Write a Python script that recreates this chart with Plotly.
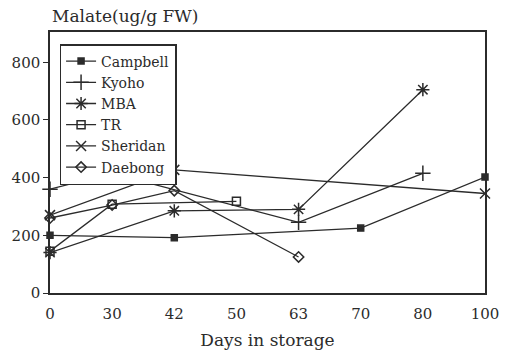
import plotly.graph_objects as go

# Storage days (shown as evenly spaced categories)
days = ["0", "30", "42", "50", "63", "70", "80", "100"]

# Malate content (ug/g FW) per cultivar: sampled days and values
campbell_days = ["0", "42", "70", "100"]
campbell_vals = [200, 192, 225, 402]

kyoho_days = ["0", "30", "63", "80"]
kyoho_vals = [360, 415, 245, 415]

mba_days = ["0", "42", "63", "80"]
mba_vals = [140, 285, 290, 705]

tr_days = ["0", "30", "50"]
tr_vals = [145, 308, 318]

sheridan_days = ["0", "42", "100"]
sheridan_vals = [270, 427, 345]

daebong_days = ["0", "30", "42", "63"]
daebong_vals = [260, 305, 355, 125]

y_ticks = [0, 200, 400, 600, 800]

INK = "#2b2b2b"
FONT = "DejaVu Serif"

series = [
    ("Campbell", campbell_days, campbell_vals, "square", 6),
    ("Kyoho", kyoho_days, kyoho_vals, "cross-thin-open", 11),
    ("MBA", mba_days, mba_vals, "asterisk-open", 11),
    ("TR", tr_days, tr_vals, "square-open", 8),
    ("Sheridan", sheridan_days, sheridan_vals, "x-thin-open", 10),
    ("Daebong", daebong_days, daebong_vals, "diamond-open", 8),
]

fig = go.Figure()
for name, xs, ys, sym, size in series:
    fig.add_trace(go.Scatter(
        x=xs, y=ys, name=name, mode="lines+markers",
        line=dict(color=INK, width=1.3),
        marker=dict(symbol=sym, size=size, color=INK,
                    line=dict(color=INK, width=1.5)),
        cliponaxis=False,
    ))

fig.update_layout(
    width=511, height=361,
    margin=dict(l=45, r=24, t=32, b=68),
    paper_bgcolor="white", plot_bgcolor="white",
    font=dict(family=FONT, size=15, color=INK),
    showlegend=True,
    legend=dict(
        x=0.022, y=0.954, xanchor="left", yanchor="top",
        bgcolor="white", bordercolor=INK, borderwidth=1.5,
        font=dict(family=FONT, size=14, color=INK),
        tracegroupgap=0, itemwidth=30,
    ),
    annotations=[dict(
        text="Malate(ug/g FW)", xref="paper", yref="paper",
        x=0.0, y=1.061, xanchor="left", yanchor="middle",
        showarrow=False, font=dict(family=FONT, size=17, color=INK),
    )],
)

fig.update_xaxes(
    type="category", categoryorder="array", categoryarray=days,
    range=[0, 7], showline=True, linecolor=INK, linewidth=1.5,
    mirror=True, ticks="", showgrid=False, zeroline=False,
    ticklabelstandoff=6,
    tickfont=dict(family=FONT, size=15, color=INK),
    title=dict(text="Days in storage", standoff=12,
               font=dict(family=FONT, size=17, color=INK)),
)
fig.update_yaxes(
    range=[0, 905], tickvals=y_ticks, showline=True, linecolor=INK,
    linewidth=1.5, mirror=True, ticks="outside", ticklen=5,
    tickcolor=INK, showgrid=False, zeroline=False,
    tickfont=dict(family=FONT, size=15, color=INK),
)

fig.write_html("out.html")
